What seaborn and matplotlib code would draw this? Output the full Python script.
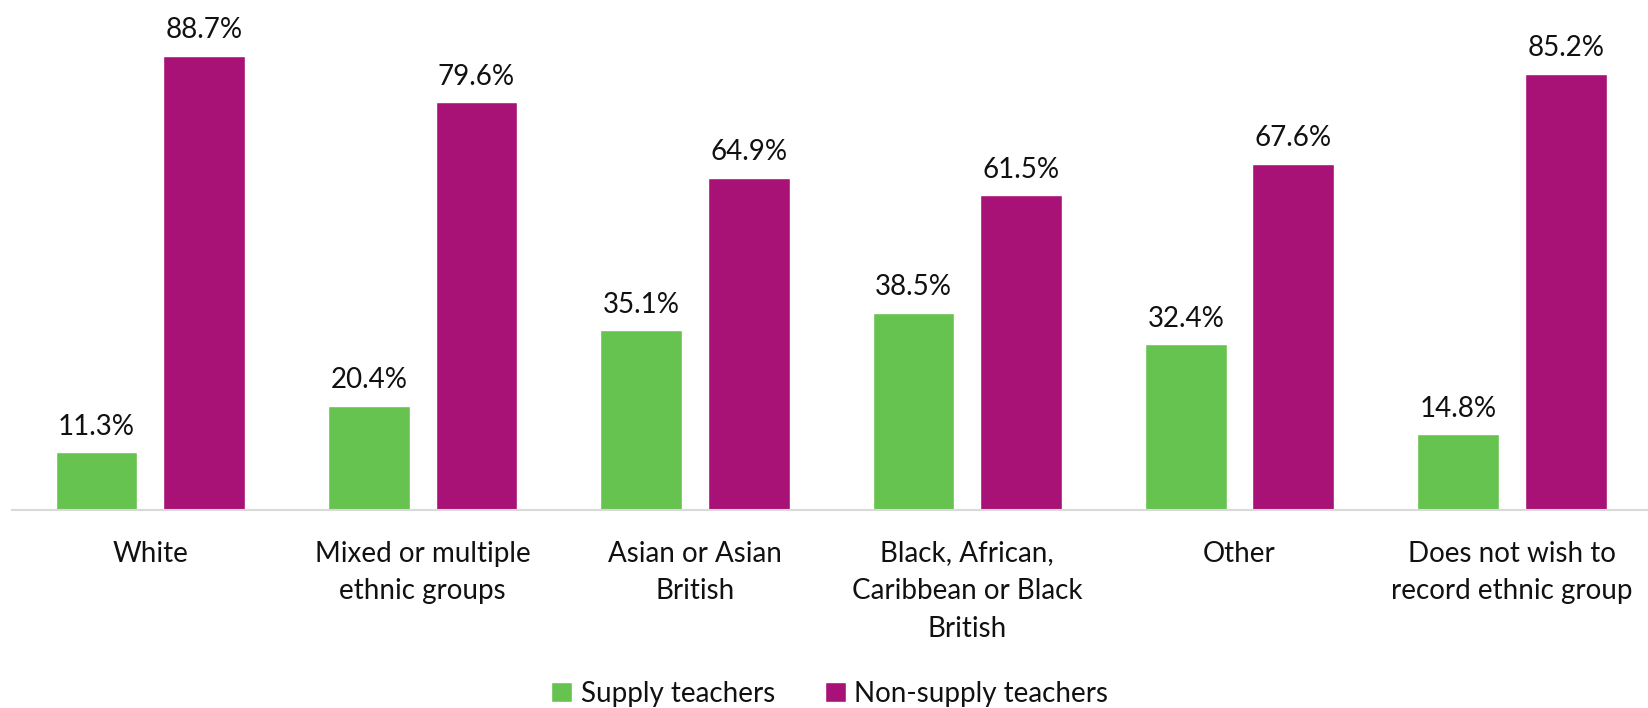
import matplotlib.pyplot as plt
import seaborn as sns
import pandas as pd

categories = [
    "White",
    "Mixed or multiple\nethnic groups",
    "Asian or Asian\nBritish",
    "Black, African,\nCaribbean or Black\nBritish",
    "Other",
    "Does not wish to\nrecord ethnic group",
]
series = ["Supply teachers", "Non-supply teachers"]
supply = [11.3, 20.4, 35.1, 38.5, 32.4, 14.8]
non_supply = [88.7, 79.6, 64.9, 61.5, 67.6, 85.2]
colors = ["#66C34F", "#A81277"]

df = pd.DataFrame({
    "category": categories * 2,
    "group": [series[0]] * len(categories) + [series[1]] * len(categories),
    "value": supply + non_supply,
})

sns.set_style("white")
plt.rcParams["font.family"] = ["Lato", "DejaVu Sans"]

fig = plt.figure(figsize=(16.48, 7.08), dpi=100)
ax = fig.add_axes([0.007, 0.2797, 0.993, 0.7203])

sns.barplot(data=df, x="category", y="value", hue="group", palette=colors,
            width=0.79, gap=0.24, ax=ax, saturation=1, errorbar=None)

for cont in ax.containers:
    ax.bar_label(cont, fmt="%.1f%%", padding=9, fontsize=20, color="#111111")

ax.set_ylim(0, 99.6)
ax.set_xlim(-0.51, 5.5)
ax.set_xlabel("")
ax.set_ylabel("")
ax.set_yticks([])
ax.tick_params(axis="x", length=0, pad=22, labelsize=20, labelcolor="#111111")
for lbl in ax.get_xticklabels():
    lbl.set_linespacing(1.55)
for s in ["top", "right", "left"]:
    ax.spines[s].set_visible(False)
ax.spines["bottom"].set_color("#D9D9D9")
ax.spines["bottom"].set_linewidth(1.5)

leg = ax.legend(loc="center", bbox_to_anchor=(0.5, -0.36), ncol=2, frameon=False,
                fontsize=20, handlelength=0.75, handleheight=0.75, handletextpad=0.3,
                columnspacing=1.8)
for t in leg.get_texts():
    t.set_color("#111111")

fig.savefig("out.png", dpi=100)
